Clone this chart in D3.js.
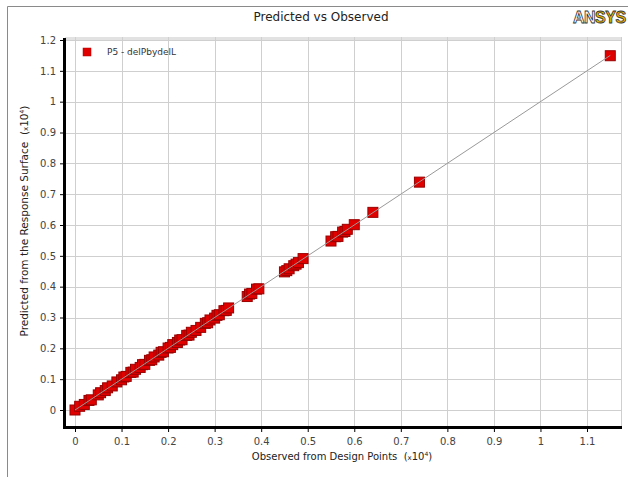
<!DOCTYPE html>
<html>
<head>
<meta charset="utf-8">
<script src="https://cdn.jsdelivr.net/npm/d3@7"></script>
<style>
  body { margin: 0; background: #fff; }
  svg { display: block; font-family: "DejaVu Sans", sans-serif; }
</style>
</head>
<body>
<svg id="chart"></svg>
<script>
// observed vs predicted values (x10^4)
var observed = [0, 0.01, 0.02, 0.03, 0.035, 0.05, 0.055, 0.065, 0.07, 0.08, 0.09, 0.1, 0.105, 0.11,
  0.12, 0.125, 0.13, 0.14, 0.145, 0.15, 0.16, 0.165, 0.17, 0.18, 0.185, 0.19, 0.2, 0.205, 0.21,
  0.22, 0.225, 0.23, 0.24, 0.245, 0.25, 0.26, 0.27, 0.28, 0.285, 0.29, 0.3, 0.305, 0.31, 0.32,
  0.325, 0.33, 0.37, 0.375, 0.38, 0.39, 0.395, 0.45, 0.455, 0.46, 0.47, 0.475, 0.48, 0.49,
  0.55, 0.56, 0.565, 0.575, 0.58, 0.585, 0.6, 0.64, 0.74, 1.15]
var predicted = [0, 0.012, 0.018, 0.031, 0.033, 0.049, 0.056, 0.063, 0.072, 0.078, 0.091, 0.098, 0.107, 0.109,
  0.122, 0.123, 0.132, 0.138, 0.147, 0.148, 0.161, 0.163, 0.172, 0.178, 0.187, 0.189, 0.201, 0.203, 0.212,
  0.219, 0.227, 0.228, 0.242, 0.243, 0.252, 0.258, 0.268, 0.281, 0.283, 0.292, 0.298, 0.307, 0.309, 0.322,
  0.323, 0.331, 0.368, 0.376, 0.378, 0.392, 0.393, 0.448, 0.452, 0.458, 0.468, 0.473, 0.478, 0.491,
  0.548, 0.562, 0.563, 0.577, 0.579, 0.586, 0.601, 0.641, 0.739, 1.149]
var xTicks = [0, 0.1, 0.2, 0.3, 0.4, 0.5, 0.6, 0.7, 0.8, 0.9, 1, 1.1]
var yTicks = [0, 0.1, 0.2, 0.3, 0.4, 0.5, 0.6, 0.7, 0.8, 0.9, 1, 1.1, 1.2]
var seriesName = "P5 - delPbydelL"

var dimensions = {
  width: 628,
  height: 477,
  left: 65,
  right: 621,
  top: 37,
  bottom: 427
}

var svg = d3.select("#chart")
  .attr("width", dimensions.width)
  .attr("height", dimensions.height)

// outer frame
svg.append("path")
  .attr("d", "M7.5," + dimensions.height + "V6.5H" + dimensions.width)
  .attr("fill", "none")
  .attr("stroke", "#8a8a8a")

// title
svg.append("text")
  .text("Predicted vs Observed")
  .attr("x", 321)
  .attr("y", 21)
  .attr("text-anchor", "middle")
  .style("font-size", "12px")
  .attr("fill", "#222")

// ANSYS logo
var logo = svg.append("text")
  .attr("x", 573)
  .attr("y", 23)
  .style("font-size", "16px")
  .style("font-weight", "bold")
  .style("letter-spacing", "-0.5px")
  .style("font-family", "'Liberation Sans', Arial, sans-serif")
  .attr("stroke", "#333")
  .attr("stroke-width", 0.8)
logo.append("tspan").text("AN").attr("fill", "#fff")
logo.append("tspan").text("SYS").attr("fill", "#e8b800")

var x = d3.scaleLinear()
  .domain([0, 1.1])
  .range([75, 587])

var y = d3.scaleLinear()
  .domain([0, 1.2])
  .range([410, 40])

// top band
svg.append("rect")
  .attr("x", dimensions.left)
  .attr("y", dimensions.top)
  .attr("width", dimensions.right - dimensions.left)
  .attr("height", 3)
  .attr("fill", "#e2e2e2")

// gridlines
svg.append("g")
  .selectAll("line")
  .data(xTicks)
  .enter().append("line")
    .attr("x1", function(d) { return Math.round(x(d)) + 0.5 })
    .attr("x2", function(d) { return Math.round(x(d)) + 0.5 })
    .attr("y1", dimensions.top)
    .attr("y2", dimensions.bottom)
    .attr("stroke", "#cfcfcf")

svg.append("g")
  .selectAll("line")
  .data(yTicks)
  .enter().append("line")
    .attr("x1", dimensions.left)
    .attr("x2", dimensions.right)
    .attr("y1", function(d) { return Math.round(y(d)) + 0.5 })
    .attr("y2", function(d) { return Math.round(y(d)) + 0.5 })
    .attr("stroke", "#cfcfcf")

// right edge
svg.append("line")
  .attr("x1", dimensions.right + 0.5).attr("x2", dimensions.right + 0.5)
  .attr("y1", dimensions.top).attr("y2", dimensions.bottom)
  .attr("stroke", "#cfcfcf")

// axes
var xAxis = svg.append("g")
  .attr("transform", "translate(0," + (dimensions.bottom + 1) + ")")
  .call(d3.axisBottom(x).tickValues(xTicks).tickSize(4).tickFormat(d3.format("~g")))
xAxis.select(".domain").remove()

var yAxis = svg.append("g")
  .attr("transform", "translate(" + (dimensions.left - 1) + ",0)")
  .call(d3.axisLeft(y).tickValues(yTicks).tickSize(4).tickFormat(d3.format("~g")))
yAxis.select(".domain").remove()

svg.selectAll(".tick text")
  .style("font-size", "10px")
  .style("font-family", "'DejaVu Sans', sans-serif")
  .attr("fill", "#444")
xAxis.selectAll(".tick text").attr("dy", "0.95em")
yAxis.selectAll(".tick text").attr("x", -8)

// thick axis lines
svg.append("line")
  .attr("x1", dimensions.left - 0.5).attr("x2", dimensions.left - 0.5)
  .attr("y1", dimensions.top + 1).attr("y2", dimensions.bottom + 2)
  .attr("stroke", "#000").attr("stroke-width", 3)
svg.append("line")
  .attr("x1", dimensions.left - 2).attr("x2", dimensions.right + 1)
  .attr("y1", dimensions.bottom + 0.5).attr("y2", dimensions.bottom + 0.5)
  .attr("stroke", "#000").attr("stroke-width", 3)

// axis titles
var xTitle = svg.append("text")
  .attr("x", 342)
  .attr("y", 460)
  .attr("text-anchor", "middle")
  .style("font-size", "10px")
  .attr("fill", "#222")
xTitle.append("tspan").text("Observed from Design Points\u00a0\u00a0(")
xTitle.append("tspan").text("x").style("font-size", "7px")
xTitle.append("tspan").text("10")
xTitle.append("tspan").text("4").style("font-size", "6px").attr("dy", -4)
xTitle.append("tspan").text(")").attr("dy", 4)

var yTitle = svg.append("text")
  .attr("transform", "translate(28,221) rotate(-90)")
  .attr("text-anchor", "middle")
  .style("font-size", "10.5px")
  .attr("fill", "#222")
yTitle.append("tspan").text("Predicted from the Response Surface\u00a0\u00a0(")
yTitle.append("tspan").text("x").style("font-size", "7px")
yTitle.append("tspan").text("10")
yTitle.append("tspan").text("4").style("font-size", "6px").attr("dy", -4)
yTitle.append("tspan").text(")").attr("dy", 4)

// data points
var points = observed.map(function(d, i) { return { obs: d, pred: predicted[i] } })
var size = 10

svg.append("g")
  .selectAll("rect")
  .data(points)
  .enter().append("rect")
    .attr("x", function(d) { return x(d.obs) - size / 2 })
    .attr("y", function(d) { return y(d.pred) - size / 2 })
    .attr("width", size)
    .attr("height", size)
    .attr("fill", "#e00000")
    .attr("stroke", "#9a0000")
    .attr("stroke-width", 1)

// reference line
var lineEnd = d3.max(observed)
svg.append("line")
  .attr("x1", x(0)).attr("y1", y(0))
  .attr("x2", x(lineEnd)).attr("y2", y(lineEnd))
  .attr("stroke", "#999")
  .attr("stroke-width", 1)

// legend
svg.append("rect")
  .attr("x", 83).attr("y", 48)
  .attr("width", 8).attr("height", 8)
  .attr("fill", "#e00000")
  .attr("stroke", "#b00000")
  .attr("stroke-width", 0.5)
svg.append("text")
  .text(seriesName)
  .attr("x", 107)
  .attr("y", 55)
  .style("font-size", "9px")
  .attr("fill", "#333")
</script>
</body>
</html>
